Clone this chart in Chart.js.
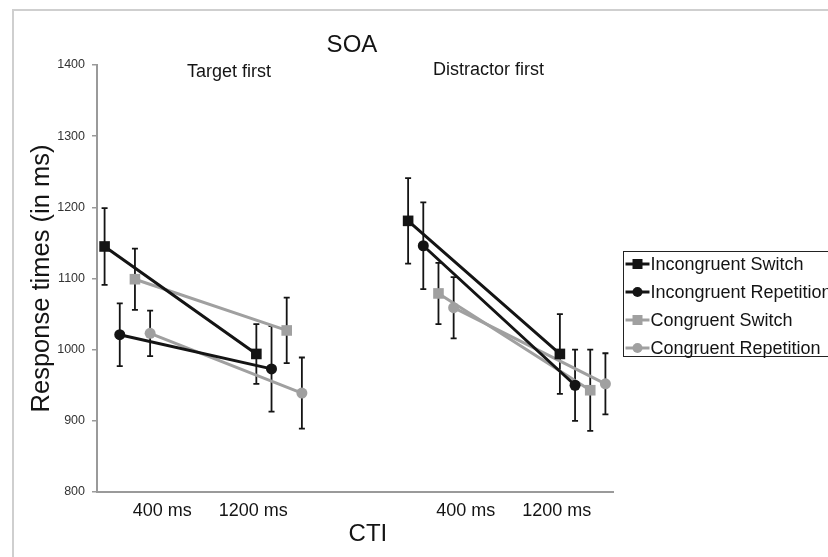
<!DOCTYPE html>
<html>
<head>
<meta charset="utf-8">
<script src="https://cdn.jsdelivr.net/npm/chart.js@4"></script>
<style>
  html, body { margin: 0; padding: 0; background: #fff; }
  #wrap { position: relative; width: 828px; height: 557px; }
</style>
</head>
<body>
<div id="wrap"><canvas id="viz" width="828" height="557"></canvas></div>
<script>
// categories along the CTI axis (two SOA groups, two CTIs each)
const soaGroups = ['Target first', 'Distractor first'];
const ctiLabels = ['400 ms', '1200 ms', '400 ms', '1200 ms'];
const yTicks = [800, 900, 1000, 1100, 1200, 1300, 1400];

const seriesNames = ['Incongruent Switch', 'Incongruent Repetition', 'Congruent Switch', 'Congruent Repetition'];
// means, order: TF-400, TF-1200, DF-400, DF-1200
const incSwitch = [1145, 994, 1181, 994];
const incRep    = [1021, 973, 1146, 950];
const conSwitch = [1099, 1027, 1079, 943];
const conRep    = [1023, 939, 1059, 952];
// error bar half-lengths
const incSwitchErr = [54, 42, 60, 56];
const incRepErr    = [44, 60, 61, 50];
const conSwitchErr = [43, 46, 43, 57];
const conRepErr    = [32, 50, 43, 43];

// look
const FONT = "'Liberation Sans', Arial, sans-serif";
const BLACK = '#141414';
const GREY = '#a0a0a0';
const AXIS = '#9a9a9a';
const seriesStyle = [
  { color: BLACK, shape: 'rect' },
  { color: BLACK, shape: 'circle' },
  { color: GREY, shape: 'rect' },
  { color: GREY, shape: 'circle' }
];
const dodge = [-0.15, -0.05, 0.05, 0.15];    // horizontal offset of each series inside a category
const labelPos = [0.23, 0.83, 2.23, 2.83];   // where the CTI labels sit on the x scale
const groupPos = [0.67, 2.38];               // SOA group captions

const $ = (id) => document.getElementById(id);

// one dataset per series, with a gap between the two SOA groups
function makeDataset(i, vals, errs){
  const st = seriesStyle[i];
  const pts = [];
  const err = [];
  vals.forEach((v, k) => {
    if (k === 2) { pts.push({ x: 1.5, y: null }); err.push(null); }
    pts.push({ x: k + dodge[i], y: v });
    err.push(errs[k]);
  });
  return {
    label: seriesNames[i],
    data: pts,
    err,
    borderColor: st.color,
    backgroundColor: st.color,
    borderWidth: 3,
    pointStyle: st.shape,
    pointRadius: st.shape === 'rect' ? 7.5 : 5.5,
    pointBorderWidth: 0,
    tension: 0,
    spanGaps: false
  };
}

const datasets = [
  makeDataset(0, incSwitch, incSwitchErr),
  makeDataset(1, incRep, incRepErr),
  makeDataset(2, conSwitch, conSwitchErr),
  makeDataset(3, conRep, conRepErr)
];

// error bars under the lines/markers
const errorBars = {
  id: 'errorBars',
  beforeDatasetsDraw(chart){
    const { ctx, scales: { y } } = chart;
    ctx.save();
    ctx.strokeStyle = BLACK;
    ctx.lineWidth = 1.8;
    chart.data.datasets.forEach((ds, di) => {
      const meta = chart.getDatasetMeta(di);
      meta.data.forEach((pt, k) => {
        const v = ds.data[k].y, e = ds.err[k];
        if (v == null || e == null) return;
        const top = y.getPixelForValue(v + e);
        const bot = y.getPixelForValue(v - e);
        ctx.beginPath();
        ctx.moveTo(pt.x, top); ctx.lineTo(pt.x, bot);
        ctx.moveTo(pt.x - 3, top); ctx.lineTo(pt.x + 3, top);
        ctx.moveTo(pt.x - 3, bot); ctx.lineTo(pt.x + 3, bot);
        ctx.stroke();
      });
    });
    ctx.restore();
  }
};

// titles, legend box and outer frame
const decor = {
  id: 'decor',
  afterDraw(chart){
    const { ctx, chartArea: a, scales: { x } } = chart;
    ctx.save();
    // frame (top + left edge)
    ctx.strokeStyle = '#cfcfcf';
    ctx.lineWidth = 2;
    ctx.beginPath();
    ctx.moveTo(13, 557); ctx.lineTo(13, 10); ctx.lineTo(828, 10);
    ctx.stroke();

    ctx.fillStyle = BLACK;
    ctx.textAlign = 'center';
    ctx.textBaseline = 'middle';
    ctx.font = `24px ${FONT}`;
    ctx.fillText('SOA', x.getPixelForValue(1.48), 45);
    ctx.fillText('CTI', x.getPixelForValue(1.585), 534);

    ctx.font = `18px ${FONT}`;
    ctx.fillText(soaGroups[0], x.getPixelForValue(groupPos[0]), 72);
    ctx.fillText(soaGroups[1], x.getPixelForValue(groupPos[1]), 70);

    ctx.save();
    ctx.translate(42, (a.top + a.bottom) / 2);
    ctx.rotate(-Math.PI / 2);
    ctx.font = `25.5px ${FONT}`;
    ctx.fillText('Response times (in ms)', 0, 0);
    ctx.restore();

    // legend
    const lx = 623.5, ly = 251.5, rowH = 28;
    ctx.strokeStyle = '#222';
    ctx.lineWidth = 1;
    ctx.strokeRect(lx, ly, 300, 105);
    ctx.textAlign = 'left';
    ctx.font = `18px ${FONT}`;
    chart.data.datasets.forEach((ds, i) => {
      const cy = 264 + i * rowH;
      ctx.strokeStyle = ds.borderColor;
      ctx.lineWidth = 3;
      ctx.beginPath();
      ctx.moveTo(lx + 2, cy); ctx.lineTo(lx + 26, cy);
      ctx.stroke();
      ctx.fillStyle = ds.borderColor;
      ctx.beginPath();
      if (ds.pointStyle === 'rect') ctx.rect(lx + 9, cy - 5, 10, 10);
      else ctx.arc(lx + 14, cy, 5, 0, Math.PI * 2);
      ctx.fill();
      ctx.fillStyle = BLACK;
      ctx.fillText(ds.label, lx + 27, cy + 1);
    });
    ctx.restore();
  }
};

new Chart($('viz').getContext('2d'), {
  type: 'line',
  data: { datasets },
  plugins: [errorBars, decor],
  options: {
    responsive: false,
    animation: false,
    events: [],
    layout: { padding: { top: 65, right: 215, bottom: 0, left: 0 } },
    plugins: { legend: { display: false }, tooltip: { enabled: false } },
    scales: {
      x: {
        type: 'linear',
        min: -0.2,
        max: 3.2,
        afterBuildTicks: s => { s.ticks = labelPos.map(v => ({ value: v })); },
        afterFit: s => { s.height = 65; },
        ticks: {
          callback: (v, i) => ctiLabels[i],
          font: { family: FONT, size: 18 },
          color: BLACK,
          padding: 0,
          maxRotation: 0,
          autoSkip: false
        },
        grid: { display: false },
        border: { color: AXIS, width: 2 }
      },
      y: {
        min: 800,
        max: 1400,
        afterBuildTicks: s => { s.ticks = yTicks.map(v => ({ value: v })); },
        afterFit: s => { s.width = 97; },
        ticks: {
          callback: v => String(v),
          font: { family: FONT, size: 12.5 },
          color: '#333',
          padding: 7
        },
        grid: { drawOnChartArea: false, tickLength: 5, color: AXIS, lineWidth: 1.5 },
        border: { color: AXIS, width: 2 }
      }
    }
  }
});
</script>
</body>
</html>
